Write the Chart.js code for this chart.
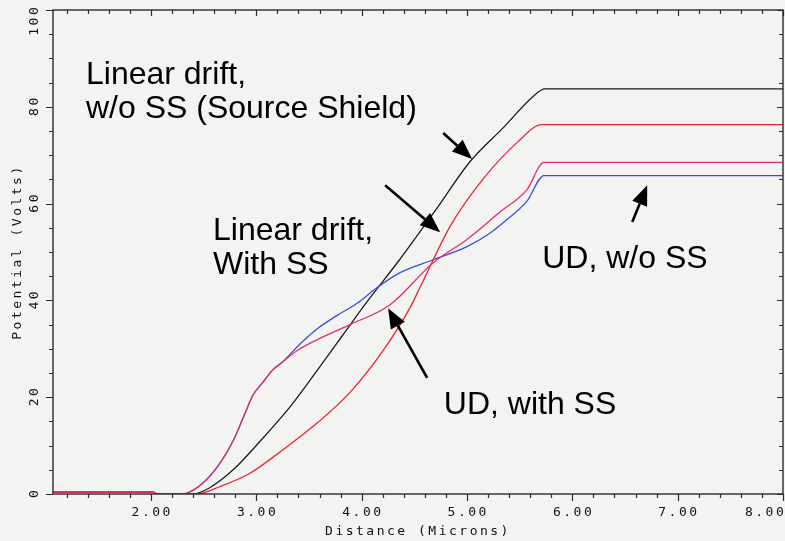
<!DOCTYPE html>
<html><head><meta charset="utf-8">
<script src="https://cdn.jsdelivr.net/npm/chart.js@4"></script>
<style>html,body{margin:0;padding:0;background:#f3f3f1;}#wrap{width:785px;height:541px;position:relative}</style>
</head><body><div id="wrap"><canvas id="c"></canvas></div>
<script>
// ---- data (Distance in microns, Potential in volts) ----
const xLinW = [1.07, 2.02, 2.06, 2.40, 2.55, 2.78, 3.04, 3.32, 3.58, 3.82, 4.05, 4.36, 4.70, 5.03, 5.35, 5.63, 5.74, 8.00];
const yLinW = [0.4, 0.4, 0, 0, 1.2, 5.0, 11.0, 18.0, 25.6, 32.8, 39.7, 48.4, 58.6, 68.7, 75.8, 82.2, 83.7, 83.7];

const xLinS = [1.07, 2.02, 2.06, 2.44, 2.65, 2.94, 3.25, 3.58, 3.89, 4.20, 4.46, 4.55, 4.84, 5.15, 5.48, 5.71, 8.00];
const yLinS = [0.4, 0.4, 0, 0, 1.5, 4.3, 9.1, 14.7, 21.0, 29.5, 38.5, 42.5, 55.3, 65.0, 72.7, 76.3, 76.3];

const xUdW = [1.07, 2.02, 2.06, 2.29, 2.45, 2.63, 2.78, 2.88, 2.97, 3.06, 3.15, 3.25, 3.42, 3.57, 3.76, 3.95, 4.15, 4.36, 4.68, 5.00, 5.20, 5.38, 5.57, 5.73, 8.00];
const yUdW = [0.4, 0.4, 0, 0, 1.5, 5.6, 11.0, 16.0, 20.5, 23.0, 25.5, 27.3, 31.1, 34.0, 36.8, 39.3, 42.7, 45.7, 48.4, 51.1, 53.6, 56.7, 60.5, 65.8, 65.8];

const xUdS = [1.07, 2.02, 2.06, 2.29, 2.45, 2.63, 2.78, 2.88, 2.97, 3.06, 3.15, 3.25, 3.40, 3.58, 3.89, 4.27, 4.68, 5.00, 5.31, 5.57, 5.73, 8.00];
const yUdS = [0.4, 0.4, 0, 0, 1.5, 5.6, 11.0, 16.0, 20.5, 23.0, 25.5, 27.3, 29.8, 31.9, 35.0, 39.1, 47.8, 52.6, 58.2, 62.9, 68.5, 68.5];

const xTicks = [1.2,1.4,1.6,1.8,2.0,2.2,2.4,2.6,2.8,3.0,3.2,3.4,3.6,3.8,4.0,4.2,4.4,4.6,4.8,5.0,5.2,5.4,5.6,5.8,6.0,6.2,6.4,6.6,6.8,7.0,7.2,7.4,7.6,7.8,8.0];
const xTickLabels = ['2.00','3.00','4.00','5.00','6.00','7.00','8.00'];
const yTicks = [0,5,10,15,20,25,30,35,40,45,50,55,60,65,70,75,80,85,90,95,100];
const yTickLabels = ['0','20','40','60','80','100'];
const xTitle = 'Distance (Microns)';
const yTitle = 'Potential (Volts)';

const noteTexts = [
  ['Linear drift,', 'w/o SS (Source Shield)'],
  ['Linear drift,', 'With SS'],
  ['UD, w/o SS'],
  ['UD, with SS']
];
// anchor of each note (data coords: distance, potential of first baseline)
const noteX = [1.383, 2.589, 5.714, 4.78];
const noteY = [84.7, 52.5, 46.7, 16.5];
// arrows tail -> tip (data coords)
const arrowFromX = [4.774, 4.223, 6.569, 4.622];
const arrowFromY = [74.6, 63.8, 56.2, 24.0];
const arrowToX = [5.049, 4.745, 6.711, 4.251];
const arrowToY = [69.2, 54.1, 63.8, 38.4];

// ---- build ----
const zip = (xs, ys) => xs.map((x, i) => ({x, y: ys[i]}));
const MONO = '"DejaVu Sans Mono", monospace';
const AXIS = '#2b2b2b';

const framePlugin = {
  id: 'frame',
  beforeDraw(chart) {
    chart.ctx.letterSpacing = '2.5px';
  },
  afterDatasetsDraw(chart) {
    const ctx = chart.ctx;
    const xs = chart.scales.x, ys = chart.scales.y;
    const a = chart.chartArea;
    ctx.save();
    ctx.letterSpacing = '0px';
    ctx.strokeStyle = AXIS;
    ctx.lineWidth = 1.4;
    ctx.strokeRect(a.left, a.top, a.right - a.left, a.bottom - a.top);
    ctx.lineWidth = 1.2;
    ctx.beginPath();
    xTicks.forEach(v => {
      const px = Math.round(xs.getPixelForValue(v)) + 0.5;
      const major = Math.abs(v - Math.round(v)) < 1e-6;
      const L = major ? 7 : 4;
      ctx.moveTo(px, a.bottom); ctx.lineTo(px, a.bottom + L);
      ctx.moveTo(px, a.top); ctx.lineTo(px, a.top + (major ? 6 : 4));
    });
    yTicks.forEach(v => {
      const py = Math.round(ys.getPixelForValue(v)) + 0.5;
      const major = v % 20 === 0;
      const L = major ? 7 : 4;
      ctx.moveTo(a.left, py); ctx.lineTo(a.left - L, py);
      ctx.moveTo(a.right, py); ctx.lineTo(a.right - (major ? 6 : 4), py);
    });
    ctx.stroke();

    // tick labels
    ctx.letterSpacing = '2.5px';
    ctx.fillStyle = '#111';
    ctx.font = '13px ' + MONO;
    ctx.textAlign = 'center';
    ctx.textBaseline = 'middle';
    xTickLabels.forEach(t => {
      const v = parseFloat(t);
      let px = xs.getPixelForValue(v);
      const w = ctx.measureText(t).width;
      if (px + w / 2 > chart.width) px = chart.width - w / 2;
      ctx.fillText(t, px + 1.25, 513);
    });
    yTickLabels.forEach(t => {
      const v = parseFloat(t);
      let py = ys.getPixelForValue(v);
      const w = ctx.measureText(t).width;
      if (py - w / 2 < 6) py = 6 + w / 2;
      ctx.save();
      ctx.translate(35, py);
      ctx.rotate(-Math.PI / 2);
      ctx.fillText(t, 1.25, 0);
      ctx.restore();
    });

    // notes
    ctx.letterSpacing = '0px';
    ctx.fillStyle = '#000';
    ctx.font = '32px "Liberation Sans", Arial, sans-serif';
    ctx.textAlign = 'left';
    ctx.textBaseline = 'alphabetic';
    noteTexts.forEach((lines, i) => {
      const px = xs.getPixelForValue(noteX[i]);
      const py = ys.getPixelForValue(noteY[i]);
      lines.forEach((ln, j) => ctx.fillText(ln, px, py + j * 34));
    });

    // arrows
    ctx.strokeStyle = '#000';
    ctx.lineWidth = 2.6;
    arrowFromX.forEach((_, i) => {
      const x0 = xs.getPixelForValue(arrowFromX[i]), y0 = ys.getPixelForValue(arrowFromY[i]);
      const x1 = xs.getPixelForValue(arrowToX[i]), y1 = ys.getPixelForValue(arrowToY[i]);
      const ang = Math.atan2(y1 - y0, x1 - x0);
      const hl = 20, hw = 8;
      const bx = x1 - hl * Math.cos(ang), by = y1 - hl * Math.sin(ang);
      ctx.beginPath(); ctx.moveTo(x0, y0); ctx.lineTo(bx, by); ctx.stroke();
      ctx.beginPath();
      ctx.moveTo(x1, y1);
      ctx.lineTo(bx + hw * Math.sin(ang), by - hw * Math.cos(ang));
      ctx.lineTo(bx - hw * Math.sin(ang), by + hw * Math.cos(ang));
      ctx.closePath(); ctx.fillStyle = '#000'; ctx.fill();
    });
    ctx.restore();
  }
};

const ds = (label, xs, ys, color) => ({
  label, data: zip(xs, ys), borderColor: color, backgroundColor: color,
  borderWidth: 1.3, pointRadius: 0, fill: false, cubicInterpolationMode: 'monotone'
});

new Chart(document.getElementById('c'), {
  type: 'line',
  data: {
    datasets: [
      ds('UD, with SS', xUdS, yUdS, '#e0306c'),
      ds('Linear drift, With SS', xLinS, yLinS, '#ee2233'),
      ds('UD, w/o SS', xUdW, yUdW, '#3a4fd6'),
      ds('Linear drift, w/o SS', xLinW, yLinW, '#1c1c1c')
    ]
  },
  options: {
    responsive: true, maintainAspectRatio: false, animation: false,
    layout: {padding: {top: 10, right: 2, left: 0, bottom: 0}},
    plugins: {legend: {display: false}, tooltip: {enabled: false}},
    scales: {
      x: {
        type: 'linear', min: 1.07, max: 8.0,
        grid: {display: false}, border: {display: false},
        ticks: {display: false},
        afterBuildTicks: s => { s.ticks = xTicks.map(v => ({value: v})); },
        afterFit: s => { s.height = 47; },
        title: {display: true, text: xTitle, color: '#111', font: {family: MONO, size: 13}, padding: {top: 0, bottom: 2}}
      },
      y: {
        type: 'linear', min: 0, max: 100,
        grid: {display: false}, border: {display: false},
        ticks: {display: false},
        afterBuildTicks: s => { s.ticks = yTicks.map(v => ({value: v})); },
        afterFit: s => { s.width = 53; },
        title: {display: true, text: yTitle, color: '#111', font: {family: MONO, size: 13}, padding: {top: 10, bottom: 0}}
      }
    }
  },
  plugins: [framePlugin]
});
</script></body></html>
